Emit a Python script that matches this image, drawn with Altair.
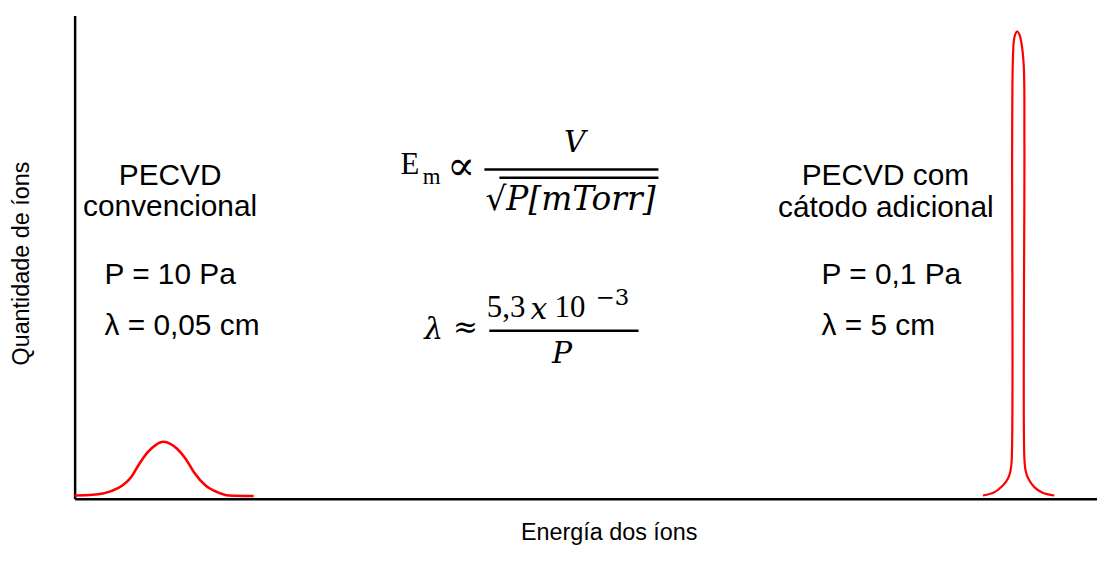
import altair as alt
import pandas as pd

# ---- curve data (energy units 0-100, ion quantity 0-100) ----
conv_energy = [0.0, 1.78, 3.57, 4.67, 5.52, 6.32, 7.13, 7.95, 8.66, 9.41, 10.05, 10.87, 11.67, 12.81, 13.94, 15.08, 17.51]
conv_count = [0.68, 0.82, 1.58, 2.74, 4.47, 7.2, 9.6, 11.17, 11.79, 11.32, 10.29, 8.23, 5.49, 2.74, 1.38, 0.68, 0.56]

cat_energy = [88.84, 89.98, 90.79, 91.28, 91.54, 91.66, 91.70, 91.76, 91.86, 92.0, 92.19, 92.41, 92.58, 92.83,
              92.90, 92.90, 93.02, 93.29, 93.87, 94.68, 95.82]
cat_count = [0.68, 1.38, 2.74, 4.12, 5.82, 8.23, 73.46, 89.86, 94.65, 96.09, 96.71, 96.09, 94.65, 89.86,
             73.46, 8.23, 5.82, 4.12, 2.41, 1.23, 0.68]

# ---- text ----
x_title = "Energía dos íons"
y_title = "Quantidade de íons"

label_center_text = ["PECVD", "convencional", "PECVD com", "cátodo adicional"]
label_center_x = [9.34, 9.34, 79.3, 79.35]
label_center_y = [66.87, 60.29, 66.87, 60.08]

label_left_text = ["P = 10 Pa", "λ = 0,05 cm", "P = 0,1 Pa", "λ = 5 cm"]
label_left_x = [2.92, 2.92, 73.06, 73.06]
label_left_y = [46.30, 35.80, 46.30, 35.80]

# formula pieces
up_text = ["E", "5,3", "10"]
up_x = [32.8, 42.2, 48.45]
up_y = [69.14, 39.51, 39.51]

sym_text = ["∝", "≈"]
sym_x = [37.8, 38.23]
sym_y = [68.72, 35.39]
sym_size = [42, 30]

sub_text = ["m"]
sub_x = [34.92]
sub_y = [66.67]

sup_text = ["−3"]
sup_x = [52.6]
sup_y = [41.56]

ital_text = ["V", "λ", "x", "P"]
ital_x = [48.93, 35.12, 45.4, 47.67]
ital_y = [73.66, 34.98, 39.09, 30.04]

den_text = ["√P[mTorr]"]
den_x = [40.18]
den_y = [61.75]

bar_x = [40.08, 41.55, 40.56]
bar_x2 = [57.10, 57.10, 55.16]
bar_y = [68.11, 66.4, 34.77]

# ---- scales / axes ----
xs = alt.Scale(domain=[0, 100], nice=False, zero=False)
ys = alt.Scale(domain=[0, 100], nice=False, zero=False)
common_axis = dict(domain=True, domainColor="black", domainWidth=2.5, ticks=False,
                   labels=False, grid=False, titleFont="Liberation Sans", titleFontSize=23.5,
                   titleFontWeight="normal", titleColor="black", titleBaseline="middle",
                   titleAlign="center")
X = alt.X("x:Q", scale=xs, axis=alt.Axis(title=x_title, titleX=537, titleY=34, **common_axis))
Y = alt.Y("y:Q", scale=ys, axis=alt.Axis(title=y_title, titleX=-53, titleY=249, titleAngle=270,
                                         **common_axis))

conv_df = pd.DataFrame({"x": conv_energy, "y": conv_count, "i": range(len(conv_energy))})
cat_df = pd.DataFrame({"x": cat_energy, "y": cat_count, "i": range(len(cat_energy))})

conv_line = alt.Chart(conv_df).mark_line(color="#ff0000", strokeWidth=2.6, interpolate="monotone").encode(
    x=X, y=Y, order="i:Q")
cat_line = alt.Chart(cat_df).mark_line(color="#ff0000", strokeWidth=2.2, interpolate="catmull-rom").encode(
    x=X, y=Y, order="i:Q")


def txt(texts, xv, yv, size=None, **mk):
    df = pd.DataFrame({"x": xv, "y": yv, "t": texts})
    enc = dict(x=X, y=Y, text="t:N")
    if size is not None:
        df["s"] = size
        enc["size"] = alt.Size("s:Q", scale=None, legend=None)
    return alt.Chart(df).mark_text(baseline="middle", color="black", **mk).encode(**enc)


sans = "Liberation Sans"
serif = "Liberation Serif"
mserif = "DejaVu Serif"

lab_c = txt(label_center_text, label_center_x, label_center_y, align="center", font=sans, fontSize=30)
lab_l = txt(label_left_text, label_left_x, label_left_y, align="left", font=sans, fontSize=30)
f_up = txt(up_text, up_x, up_y, align="center", font=serif, fontSize=31)
f_sym = txt(sym_text, sym_x, sym_y, size=sym_size, align="center", font=mserif)
f_sub = txt(sub_text, sub_x, sub_y, align="center", font=serif, fontSize=23)
f_sup = txt(sup_text, sup_x, sup_y, align="center", font=mserif, fontSize=23)
f_ital = txt(ital_text, ital_x, ital_y, align="center", font=mserif, fontSize=30, fontStyle="italic")
f_den = txt(den_text, den_x, den_y, align="left", font=mserif, fontSize=33, fontStyle="italic")

bars_df = pd.DataFrame({"x": bar_x, "x2": bar_x2, "y": bar_y})
bars = alt.Chart(bars_df).mark_rule(color="black", strokeWidth=2.5).encode(x=X, x2="x2:Q", y=Y)

chart = alt.layer(conv_line, cat_line, lab_c, lab_l, f_up, f_sym, f_sub, f_sup, f_ital, f_den, bars).properties(
    width=1028, height=486,
    padding={"left": 67, "top": 6, "right": 0, "bottom": 48},
    autosize=alt.AutoSizeParams(type="none"),
).configure_view(stroke=None)

chart.save("out.html", embed_options={"renderer": "svg", "actions": False})
